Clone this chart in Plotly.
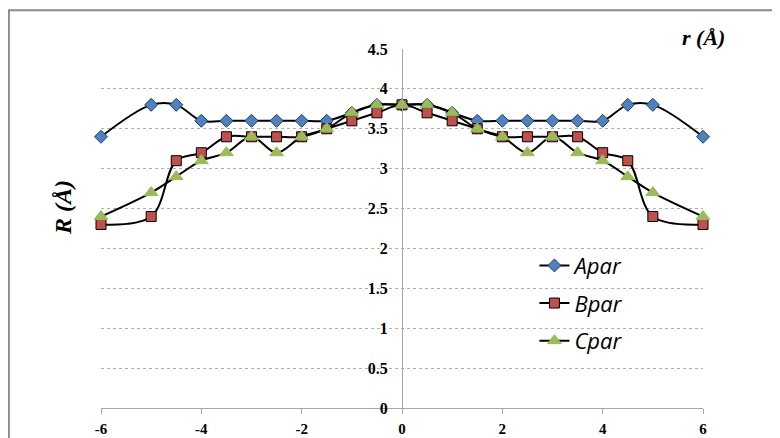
import plotly.graph_objects as go

r_vals = [-6, -5, -4.5, -4, -3.5, -3, -2.5, -2, -1.5, -1, -0.5, 0, 0.5, 1, 1.5, 2, 2.5, 3, 3.5, 4, 4.5, 5, 6]
apar = [3.4, 3.8, 3.8, 3.6, 3.6, 3.6, 3.6, 3.6, 3.6, 3.7, 3.8, 3.8, 3.8, 3.7, 3.6, 3.6, 3.6, 3.6, 3.6, 3.6, 3.8, 3.8, 3.4]
bpar = [2.3, 2.4, 3.1, 3.2, 3.4, 3.4, 3.4, 3.4, 3.5, 3.6, 3.7, 3.8, 3.7, 3.6, 3.5, 3.4, 3.4, 3.4, 3.4, 3.2, 3.1, 2.4, 2.3]
cpar = [2.4, 2.7, 2.9, 3.1, 3.2, 3.4, 3.2, 3.4, 3.5, 3.7, 3.8, 3.8, 3.8, 3.7, 3.5, 3.4, 3.2, 3.4, 3.2, 3.1, 2.9, 2.7, 2.4]
x_ticks = [-6, -4, -2, 0, 2, 4, 6]
x_labels = ["-6", "-4", "-2", "0", "2", "4", "6"]
y_ticks = [0, 0.5, 1, 1.5, 2, 2.5, 3, 3.5, 4, 4.5]
y_labels = ["0", "0.5", "1", "1.5", "2", "2.5", "3", "3.5", "4", "4.5"]

fig = go.Figure()
series = [
    ("Apar", apar, "diamond", "#4F81BD", 10, "#1F3F6F"),
    ("Bpar", bpar, "square", "#C0504D", 10, "#000000"),
    ("Cpar", cpar, "triangle-up", "#9BBB59", 12, "#9BBB59"),
]
for name, vals, sym, col, sz, lc in series:
    fig.add_trace(go.Scatter(
        x=r_vals, y=vals, name="<i>" + name + "</i>", mode="lines+markers",
        line=dict(color="black", width=2, shape="spline", smoothing=1),
        marker=dict(symbol=sym, color=col, size=sz, line=dict(color=lc, width=1)),
        cliponaxis=False, legendgroup=name,
    ))

tick_font = dict(family="Liberation Serif", size=16, color="black")
xtick_font = dict(family="Liberation Serif", size=15, color="black")

fig.update_layout(
    width=780, height=438,
    margin=dict(l=93, r=85, t=41, b=38),
    paper_bgcolor="white", plot_bgcolor="white",
    showlegend=True,
    legend=dict(x=0.72, y=0.455, xanchor="left", yanchor="top",
                font=dict(family="Open Sans, Liberation Sans", size=22, color="black"),
                tracegroupgap=6, bgcolor="rgba(0,0,0,0)"),
    xaxis=dict(range=[-6, 6], tickvals=x_ticks, ticktext=["<b>%s</b>" % t for t in x_labels],
               showgrid=False, zeroline=False, automargin=False,
               showline=True, linecolor="#A6A6A6", linewidth=1,
               ticks="outside", ticklen=5, tickcolor="#A6A6A6",
               ticklabelstandoff=2, tickfont=xtick_font),
    yaxis=dict(range=[0, 4.5], tickvals=y_ticks, ticktext=["<b>%s</b>" % t for t in y_labels],
               anchor="free", position=0.5, showgrid=True, automargin=False,
               gridcolor="#B0B0B0", griddash="dot", gridwidth=1, zeroline=False,
               showline=True, linecolor="#A6A6A6", linewidth=1,
               ticks="", ticklabelstandoff=11, tickfont=tick_font),
)

fig.add_shape(type="rect", xref="paper", yref="paper",
              x0=-0.153, y0=-0.3, x1=1.3, y1=1.108,
              line=dict(color="#8C8C8C", width=2), fillcolor="rgba(0,0,0,0)", layer="below")

fig.add_annotation(text="<b><i>R (Å)</i></b>", xref="paper", yref="paper",
                   x=-0.063, y=0.557, textangle=-90, showarrow=False,
                   xanchor="center", yanchor="middle",
                   font=dict(family="Liberation Serif", size=24, color="black"))
fig.add_annotation(text="<b><i>r (Å)</i></b>", xref="paper", yref="paper",
                   x=1.0, y=1.033, showarrow=False, xanchor="center", yanchor="middle",
                   font=dict(family="Liberation Serif", size=22, color="black"))

fig.write_html("out.html")
